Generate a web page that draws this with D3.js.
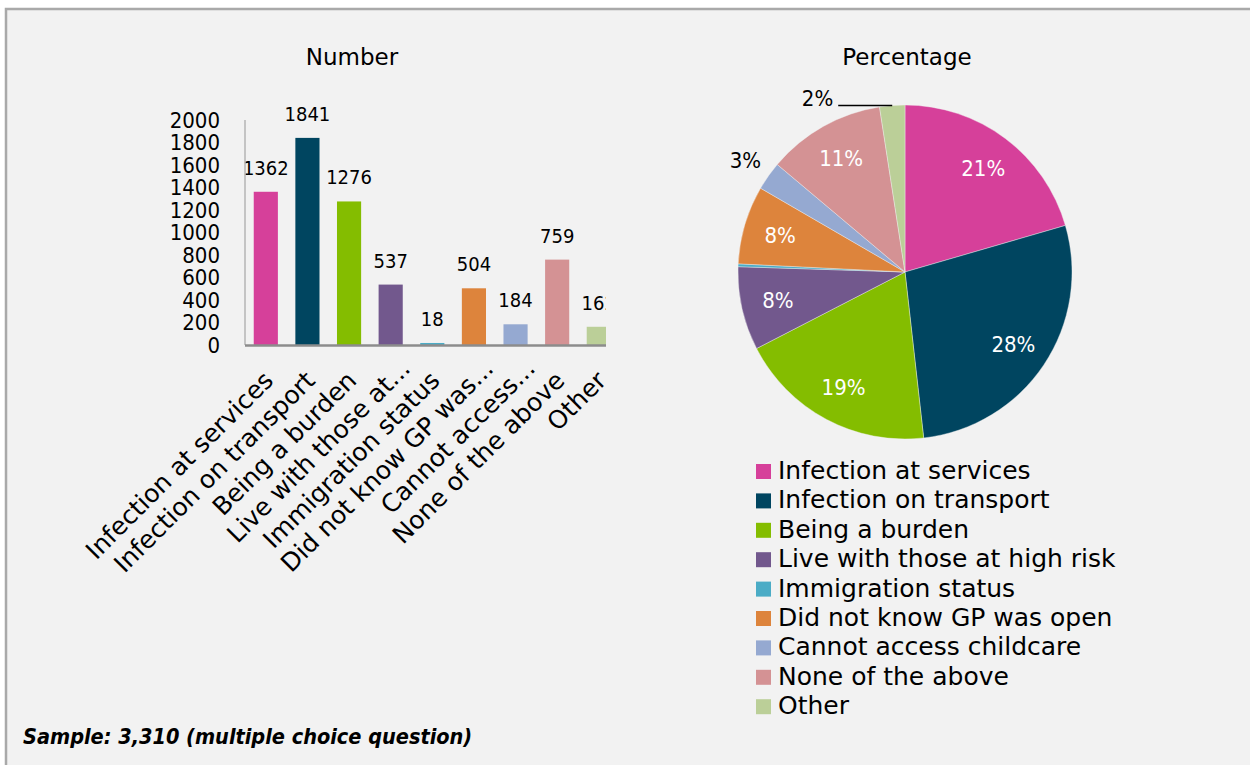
<!DOCTYPE html>
<html>
<head>
<meta charset="utf-8">
<script src="https://cdn.jsdelivr.net/npm/d3@7"></script>
<style>
  body { margin: 0; background: #fff; }
  svg { display: block; font-family: "DejaVu Sans", sans-serif; }
  .num { font-family: "DejaVu Sans Condensed", "DejaVu Sans", sans-serif; }
</style>
</head>
<body>
<svg width="1250" height="765"></svg>
<script>
// categories (full names for the legend, shortened ones for the axis)
const categories = ["Infection at services", "Infection on transport", "Being a burden",
  "Live with those at high risk", "Immigration status", "Did not know GP was open",
  "Cannot access childcare", "None of the above", "Other"];
const axisLabels = ["Infection at services", "Infection on transport", "Being a burden",
  "Live with those at...", "Immigration status", "Did not know GP was...",
  "Cannot access...", "None of the above", "Other"];
const counts = [1362, 1841, 1276, 537, 18, 504, 184, 759, 162];
const colors = ["#d6409a", "#004560", "#84bd00", "#72588d", "#4bacc6",
  "#dd843c", "#95a9d1", "#d49294", "#bbcf98"];
const yTicks = [0, 200, 400, 600, 800, 1000, 1200, 1400, 1600, 1800, 2000];

const svg = d3.select("svg");

// panel background with grey border on top/left
svg.append("rect").attr("x", 6).attr("y", 9).attr("width", 1260).attr("height", 780)
  .attr("fill", "#f2f2f2").attr("stroke", "#a9a9a9").attr("stroke-width", 2.5);

svg.append("text").attr("class", "num").attr("x", 23).attr("y", 744)
  .attr("font-size", 21.5).attr("font-weight", "bold").attr("font-style", "italic")
  .text("Sample: 3,310 (multiple choice question)");

// ---- bar chart ----
const x = d3.scaleBand().domain(categories).range([245, 619.6]).paddingInner(0.42).paddingOuter(0.21);
const y = d3.scaleLinear().domain([0, 2000]).range([345, 120]);

svg.append("text").attr("x", 352).attr("y", 65).attr("text-anchor", "middle")
  .attr("font-size", 23).text("Number");

const yAxis = svg.append("g").attr("transform", "translate(220,0)")
  .call(d3.axisLeft(y).tickValues(yTicks).tickSize(0).tickPadding(0).tickFormat(d3.format("d")));
yAxis.attr("font-family", null).attr("font-size", null);
yAxis.select(".domain").remove();
yAxis.selectAll("text").attr("class", "num").attr("font-size", 22).attr("fill", "#000");

svg.append("defs").append("clipPath").attr("id", "plot")
  .append("rect").attr("x", 240).attr("y", 60).attr("width", 366).attr("height", 300);

const plot = svg.append("g").attr("clip-path", "url(#plot)");

plot.selectAll("rect.bar").data(counts).join("rect").attr("class", "bar")
  .attr("x", (d, i) => x(categories[i]))
  .attr("y", d => y(d))
  .attr("width", x.bandwidth())
  .attr("height", d => y(0) - y(d))
  .attr("fill", (d, i) => colors[i]);

plot.selectAll("text.val").data(counts).join("text").attr("class", "val num")
  .attr("x", (d, i) => x(categories[i]) + x.bandwidth() / 2)
  .attr("y", d => y(d) - 17)
  .attr("text-anchor", "middle").attr("font-size", 20)
  .text(d => d);

// axis lines
svg.append("line").attr("x1", 245).attr("x2", 245).attr("y1", 120).attr("y2", 345)
  .attr("stroke", "#b4b4b4").attr("stroke-width", 1.5);
svg.append("line").attr("x1", 245).attr("x2", 606).attr("y1", 345.5).attr("y2", 345.5)
  .attr("stroke", "#8c8c8c").attr("stroke-width", 2.5);

// rotated category labels (truncated ones sit a little further along)
svg.selectAll("text.cat").data(axisLabels).join("text").attr("class", "cat")
  .attr("text-anchor", "end").attr("font-size", 25)
  .attr("transform", (d, i) => {
    const cut = d.endsWith("...") ? 12 : 0;
    const cx = x(categories[i]) + x.bandwidth() / 2 + 9 + cut;
    return `translate(${cx},${382 - cut}) rotate(-45)`;
  })
  .text(d => d);

// ---- pie chart ----
const total = d3.sum(counts);
const cx = 905, cy = 272, r = 167;
const pie = d3.pie().sort(null).value(d => d)(counts);
const arc = d3.arc().innerRadius(0).outerRadius(r);

svg.append("text").attr("x", 907).attr("y", 65).attr("text-anchor", "middle")
  .attr("font-size", 23).text("Percentage");

const pg = svg.append("g").attr("transform", `translate(${cx},${cy})`);
pg.selectAll("path").data(pie).join("path")
  .attr("d", arc).attr("fill", (d, i) => colors[i])
  .attr("stroke", "#f2f2f2").attr("stroke-width", 0.4);

const pct = d => Math.round(d.value / total * 100);
const inner = d3.arc().innerRadius(r * 0.78).outerRadius(r * 0.78);
const outer = d3.arc().innerRadius(195).outerRadius(195);

pie.forEach(d => {
  const share = d.value / total;
  if (share < 0.01) return;
  const t = pg.append("text").attr("class", "num").attr("font-size", 22);
  if (share >= 0.04) {
    const [px, py] = inner.centroid(d);
    t.attr("x", px).attr("y", py).attr("dy", "0.35em")
      .attr("text-anchor", "middle").attr("fill", "#fff");
  } else if (share >= 0.025) {
    const [px, py] = outer.centroid(d);
    t.attr("x", px).attr("y", py).attr("dy", "0.35em")
      .attr("text-anchor", "middle").attr("fill", "#000");
  } else {
    // small slice: label pulled to the left with a leader line
    const a = (d.startAngle + d.endAngle) / 2;
    const ex = r * Math.sin(a), ey = -r * Math.cos(a);
    pg.append("line").attr("x1", ex).attr("x2", ex - 54).attr("y1", ey).attr("y2", ey)
      .attr("stroke", "#000").attr("stroke-width", 1.5);
    t.attr("x", ex - 59).attr("y", ey).attr("text-anchor", "end").attr("fill", "#000");
  }
  t.text(pct(d) + "%");
});

// legend
const lg = svg.append("g").attr("transform", "translate(756,464)");
const row = lg.selectAll("g").data(categories).join("g")
  .attr("transform", (d, i) => `translate(0,${i * 29.4})`);
row.append("rect").attr("width", 15).attr("height", 15).attr("fill", (d, i) => colors[i]);
row.append("text").attr("x", 22).attr("y", 15).attr("font-size", 25).text(d => d);
</script>
</body>
</html>
